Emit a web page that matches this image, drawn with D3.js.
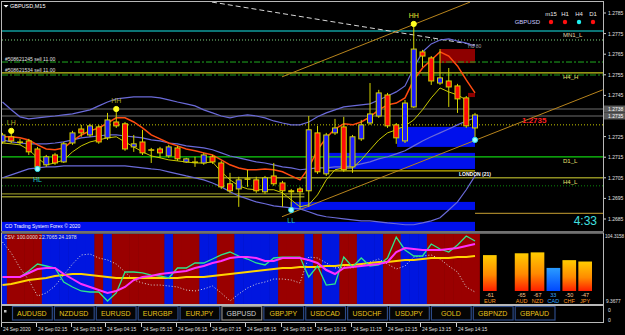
<!DOCTYPE html>
<html>
<head>
<meta charset="utf-8">
<title>GBPUSD,M15</title>
<script src="https://cdn.jsdelivr.net/npm/d3@7"></script>
<style>
  html, body { margin: 0; padding: 0; background: #000; overflow: hidden; }
  svg { display: block; font-family: "Liberation Sans", Arial, sans-serif; }
</style>
</head>
<body>
<div id="chart"></div>
<script>
// GBPUSD M15, 24 Sep 2020 - bars from 01:15 (index 0) to 14:45 (index 54)
var opens  = [1.27224,1.27249,1.27224,1.27229,1.27190,1.27113,1.27161,1.27127,1.27219,1.27287,1.27258,1.27297,1.27244,1.27321,1.27312,1.27200,1.27224,1.27186,1.27190,1.27156,1.27195,1.27127,1.27127,1.27122,1.27152,1.27122,1.27021,1.26996,1.27045,1.27040,1.26982,1.27059,1.27025,1.26987,1.26996,1.26987,1.27268,1.27069,1.27268,1.27297,1.27103,1.27239,1.27316,1.27350,1.27452,1.27307,1.27229,1.27394,1.27661,1.27632,1.27510,1.27520,1.27496,1.27438,1.27292];
var highs  = [1.27268,1.27268,1.27239,1.27239,1.27200,1.27161,1.27171,1.27224,1.27278,1.27307,1.27312,1.27307,1.27365,1.27375,1.27321,1.27258,1.27283,1.27195,1.27200,1.27210,1.27205,1.27147,1.27152,1.27171,1.27161,1.27132,1.27074,1.27055,1.27089,1.27055,1.27059,1.27122,1.27035,1.26996,1.27006,1.27350,1.27302,1.27268,1.27336,1.27346,1.27258,1.27331,1.27510,1.27477,1.27462,1.27316,1.27428,1.27797,1.27671,1.27641,1.27675,1.27583,1.27506,1.27447,1.27365];
var lows   = [1.27215,1.27219,1.27210,1.27161,1.27098,1.27103,1.27113,1.27122,1.27210,1.27249,1.27249,1.27215,1.27234,1.27292,1.27181,1.27176,1.27161,1.27122,1.27147,1.27147,1.27132,1.27122,1.27103,1.27113,1.27118,1.26996,1.26977,1.26909,1.27006,1.26977,1.26972,1.27011,1.26909,1.26904,1.26899,1.26909,1.27069,1.27059,1.27258,1.27079,1.27074,1.27229,1.27307,1.27341,1.27292,1.27215,1.27219,1.27389,1.27588,1.27501,1.27501,1.27394,1.27365,1.27292,1.27234];
var closes = [1.27258,1.27229,1.27223,1.27176,1.27103,1.27152,1.27122,1.27215,1.27268,1.27268,1.27302,1.27224,1.27331,1.27302,1.27190,1.27215,1.27171,1.27185,1.27171,1.27200,1.27142,1.27142,1.27126,1.27161,1.27127,1.27006,1.26987,1.27040,1.27044,1.26987,1.27050,1.27021,1.26987,1.26982,1.26982,1.27283,1.27079,1.27258,1.27292,1.27089,1.27249,1.27307,1.27360,1.27462,1.27302,1.27244,1.27413,1.27675,1.27641,1.27520,1.27535,1.27491,1.27433,1.27302,1.27355];

// moving averages and bands
var maFast = [1.27249,1.27249,1.27244,1.27234,1.27210,1.27190,1.27186,1.27195,1.27229,1.27258,1.27278,1.27292,1.27316,1.27341,1.27341,1.27321,1.27292,1.27258,1.27239,1.27219,1.27205,1.27190,1.27181,1.27171,1.27161,1.27137,1.27113,1.27098,1.27089,1.27089,1.27093,1.27089,1.27079,1.27059,1.27040,1.27098,1.27186,1.27244,1.27287,1.27312,1.27307,1.27321,1.27346,1.27380,1.27404,1.27413,1.27438,1.27525,1.27583,1.27622,1.27661,1.27641,1.27593,1.27525,1.27462];
var maSlow = [1.27219,1.27215,1.27210,1.27186,1.27147,1.27113,1.27122,1.27137,1.27176,1.27205,1.27224,1.27234,1.27244,1.27249,1.27224,1.27200,1.27176,1.27156,1.27147,1.27137,1.27132,1.27127,1.27122,1.27122,1.27127,1.27079,1.27040,1.27011,1.26996,1.26992,1.26992,1.26992,1.26977,1.26943,1.26909,1.26919,1.26967,1.27040,1.27089,1.27098,1.27098,1.27137,1.27186,1.27234,1.27268,1.27283,1.27302,1.27331,1.27380,1.27438,1.27486,1.27467,1.27452,1.27428,null];
var bandUpper = [1.27418,1.27380,1.27346,1.27336,1.27341,1.27346,1.27350,1.27355,1.27360,1.27370,1.27380,1.27399,1.27418,1.27433,1.27438,1.27443,1.27443,1.27443,1.27438,1.27428,1.27418,1.27409,1.27399,1.27380,1.27365,1.27350,1.27341,1.27350,1.27355,1.27350,1.27341,1.27326,1.27316,1.27307,1.27307,1.27321,1.27346,1.27365,1.27380,1.27394,1.27399,1.27404,1.27409,1.27428,1.27447,1.27467,1.27496,1.27583,1.27661,1.27700,1.27719,1.27724,1.27714,1.27704,1.27690];
var bandMid = [1.27234,1.27224,1.27219,1.27215,1.27215,1.27215,1.27219,1.27224,1.27234,1.27244,1.27249,1.27253,1.27258,1.27258,1.27253,1.27249,1.27244,1.27234,1.27229,1.27219,1.27215,1.27205,1.27200,1.27195,1.27186,1.27171,1.27156,1.27147,1.27137,1.27127,1.27122,1.27113,1.27103,1.27098,1.27089,1.27093,1.27098,1.27098,1.27103,1.27103,1.27108,1.27118,1.27127,1.27142,1.27152,1.27166,1.27181,1.27205,1.27229,1.27249,1.27268,1.27287,1.27307,1.27326,1.27341];
var bandLower = [1.27050,1.27064,1.27079,1.27093,1.27098,1.27103,1.27103,1.27108,1.27108,1.27108,1.27108,1.27108,1.27108,1.27108,1.27108,1.27103,1.27098,1.27093,1.27089,1.27079,1.27069,1.27059,1.27050,1.27040,1.27025,1.27006,1.26982,1.26962,1.26948,1.26933,1.26924,1.26914,1.26909,1.26904,1.26899,1.26885,1.26870,1.26861,1.26856,1.26851,1.26846,1.26841,1.26841,1.26836,1.26831,1.26827,1.26822,1.26822,1.26831,1.26841,1.26856,1.26894,1.26933,1.26992,1.27059];

// horizontal levels
var levelNames  = ["MN1_L","mn1dots","sell1","H4_H","sell2","ask","bid","LH","D1_L","H4_L","d1dots"];
var levelPrices = [1.27763,1.27719,1.27612,1.27559,1.27549,1.27384,1.27350,1.27307,1.27152,1.27050,1.27011];

// short segments: [from bar, to bar, price]
var segKinds  = ["olive","olive","london","tail"];
var segFrom   = [-1,-1,36.7,54];
var segTo     = [34.5,34.5,54,70];
var segPrices = [1.26972,1.26958,1.27084,1.26877];

// zones
var zoneKinds = ["blue","blue","blue","blue","red","red"];
var zoneFrom  = [45.1,36.7,32.9,-1,50,53.2];
var zoneTo    = [54,54,54,54,54,54];
var zoneHigh  = [1.27297,1.27171,1.26933,1.26836,1.27675,1.27462];
var zoneLow   = [1.27200,1.27093,1.26894,1.26790,1.27607,1.27442];

// trend lines
var trendKinds = ["white","tan","tan"];
var trendI0 = [23.94,31.94,31.94];
var trendP0 = [1.27903,1.27540,1.26861];
var trendI1 = [54,53.43,68.6];
var trendP1 = [1.27695,1.27903,1.27477];

// swing points
var swingBars   = [1,13,47,4,33,54];
var swingPrices = [1.27278,1.27384,1.27797,1.27093,1.26894,1.27234];
var swingTypes  = ["hi","hi","hi","lo","lo","lo"];
var swingLabels = ["LH","HH","HH","HL","LL",""];

var priceTicks = [1.2685,1.2695,1.2705,1.2715,1.2725,1.2735,1.2745,1.2755,1.2765,1.2775,1.2785];

var timeLabelBars = [0,4,8,12,16,20,24,28,32,36,40,44,48,52];
var timeLabels = ["24 Sep 2020","24 Sep 02:15","24 Sep 03:15","24 Sep 04:15","24 Sep 05:15","24 Sep 06:15","24 Sep 07:15","24 Sep 08:15","24 Sep 09:15","24 Sep 10:15","24 Sep 11:15","24 Sep 12:15","24 Sep 13:15","24 Sep 14:15"];

// lower window: signal per bar and the four lines
var signal = ["B","R","R","R","R","B","B","B","B","B","B","R","B","R","R","R","R","R","R","B","R","R","R","B","B","R","R","B","B","B","B","B","R","R","R","B","R","B","B","R","R","B","B","B","R","R","B","B","B","R","R","R","R","R","R"];
var csGreen   = [44.4,44.4,44.4,53.2,63.4,60.5,57.6,37.1,29.8,24.0,22.5,22.5,9.4,21.1,51.7,51.7,50.3,47.3,45.9,43.0,57.6,57.6,64.9,64.9,70.7,76.6,80.9,75.1,70.7,64.9,62.0,72.2,73.6,73.6,73.6,44.4,60.5,32.7,34.2,73.6,59.0,72.2,60.5,62.0,72.2,102.8,83.9,75.1,75.1,92.6,85.3,80.9,91.2,104.3,97.0];
var csMagenta = [44.4,44.4,44.4,50.3,56.1,57.6,57.6,48.8,41.5,34.2,29.8,25.4,21.1,24.0,29.8,40.0,44.4,45.9,48.8,50.3,51.7,53.2,57.6,60.5,64.9,67.8,72.2,73.6,73.6,72.2,67.8,67.8,72.2,72.2,72.2,69.3,64.9,54.6,48.8,57.6,59.0,60.5,62.0,63.4,66.3,80.9,86.8,85.3,83.9,83.9,83.9,85.3,86.8,89.7,92.6];
var csYellow  = [32.7,34.2,37.1,40.0,41.5,43.0,45.9,47.3,48.8,48.8,47.3,45.9,44.4,43.0,43.0,43.0,43.0,43.0,43.0,43.0,43.0,44.4,44.4,44.4,45.9,47.3,48.8,50.3,51.7,53.2,54.6,56.1,57.6,57.6,59.0,59.0,59.0,60.5,60.5,62.0,62.0,63.4,64.9,66.3,66.3,67.8,69.3,69.3,70.7,72.2,72.2,72.2,73.6,73.6,75.1];
var csWhite   = [95.5,79.5,57.6,40.0,16.7,21.1,31.3,47.3,63.4,76.6,78.0,72.2,69.3,63.4,51.7,40.0,35.7,32.7,32.7,31.3,29.8,25.4,24.0,26.9,31.3,21.1,9.4,19.6,28.4,34.2,37.1,41.5,41.5,40.0,35.7,73.6,72.2,64.9,57.6,59.0,57.6,62.0,66.3,70.7,63.4,56.1,60.5,73.6,75.1,76.6,70.7,60.5,51.7,29.8,22.5];
var csMin = 9.3677, csMax = 104.3158;

// currency strength bars
var currencies = ["EUR","GBP","AUD","NZD","CAD","CHF","JPY"];
var strength   = [-61,null,-65,-67,33,-50,-47];

// pair buttons
var pairs = ["AUDUSD","NZDUSD","EURUSD","EURGBP","EURJPY","GBPUSD","GBPJPY","USDCAD","USDCHF","USDJPY","GOLD","GBPNZD","GBPAUD"];
var activePair = "GBPUSD";

// timeframe trend dots
var tfNames = ["m15","H1","H4","D1"];
var tfState = ["down","down","up","down"];

var W = 625, H = 335;
var svg = d3.select("#chart").append("svg").attr("width", W).attr("height", H);
svg.append("rect").attr("width", W).attr("height", H).attr("fill", "#000");

var x = d3.scaleLinear().domain([0, 54]).range([2.5, 475]);
var y = d3.scaleLinear().domain([1.2685, 1.2785]).range([219, 13]);
var barW = x(1) - x(0);

var defs = svg.append("defs");
defs.append("clipPath").attr("id", "clipMain").append("rect")
  .attr("x", 2).attr("y", 2).attr("width", 601).attr("height", 229);
defs.append("clipPath").attr("id", "clipSub").append("rect")
  .attr("x", 2).attr("y", 234).attr("width", 601).attr("height", 70);
var gNeg = defs.append("linearGradient").attr("id", "gradNeg").attr("x1", 0).attr("y1", 0).attr("x2", 0).attr("y2", 1);
gNeg.append("stop").attr("offset", "0%").attr("stop-color", "#ffcc00");
gNeg.append("stop").attr("offset", "55%").attr("stop-color", "#ff8a00");
gNeg.append("stop").attr("offset", "100%").attr("stop-color", "#ff1e00");
var gPos = defs.append("linearGradient").attr("id", "gradPos").attr("x1", 0).attr("y1", 0).attr("x2", 0).attr("y2", 1);
gPos.append("stop").attr("offset", "0%").attr("stop-color", "#2a9cff");
gPos.append("stop").attr("offset", "100%").attr("stop-color", "#0048ff");

var main = svg.append("g").attr("clip-path", "url(#clipMain)");

// zones
var zones = zoneKinds.map(function(k, i) {
  return { kind: k, from: zoneFrom[i], to: zoneTo[i], hi: zoneHigh[i], lo: zoneLow[i] };
});
main.selectAll("rect.zone").data(zones).enter().append("rect")
  .attr("class", "zone")
  .attr("x", function(d) { return x(d.from); })
  .attr("width", function(d) { return x(d.to) - x(d.from); })
  .attr("y", function(d) { return y(d.hi); })
  .attr("height", function(d) { return y(d.lo) - y(d.hi); })
  .attr("fill", function(d) { return d.kind == "blue" ? "#0010ec" : "#8e0000"; });

// level lines
var levelStyle = {
  "MN1_L":   { color: "#0b7474", width: 2,   dash: null },
  "mn1dots": { color: "#7fd47f", width: 1,   dash: "1,2" },
  "sell1":   { color: "#1faa1f", width: 1,   dash: "6,2,2,2" },
  "H4_H":    { color: "#c4c41e", width: 1.2, dash: null },
  "sell2":   { color: "#1a9a1a", width: 1,   dash: "6,2,2,2" },
  "ask":     { color: "#4a4a4a", width: 1.5, dash: null },
  "bid":     { color: "#4a4a4a", width: 1.5, dash: null },
  "LH":      { color: "#c8c800", width: 1,   dash: "1,2" },
  "D1_L":    { color: "#10d010", width: 1.2, dash: null },
  "H4_L":    { color: "#8f8f22", width: 1.5, dash: null },
  "d1dots":  { color: "#0a8a0a", width: 1,   dash: "1,2" }
};
levelNames.forEach(function(n, i) {
  var s = levelStyle[n];
  main.append("line")
    .attr("x1", 2).attr("x2", 603)
    .attr("y1", y(levelPrices[i])).attr("y2", y(levelPrices[i]))
    .attr("stroke", s.color).attr("stroke-width", s.width)
    .attr("stroke-dasharray", s.dash);
});
// level labels
["MN1_L","H4_H","D1_L","H4_L"].forEach(function(n) {
  var p = levelPrices[levelNames.indexOf(n)];
  main.append("text").attr("x", 563).attr("y", y(p) + 6)
    .attr("fill", n == "MN1_L" ? "#e0d8b0" : "#e8e070")
    .style("font-size", "6px").text(n);
});

// segments
var segColor = { olive: "#8a8a24", london: "#c8b400", tail: "#a08028" };
segKinds.forEach(function(k, i) {
  main.append("line")
    .attr("x1", x(segFrom[i])).attr("x2", x(segTo[i]))
    .attr("y1", y(segPrices[i])).attr("y2", y(segPrices[i]))
    .attr("stroke", segColor[k]).attr("stroke-width", 1.3);
});

// trend lines
trendKinds.forEach(function(k, i) {
  main.append("line")
    .attr("x1", x(trendI0[i])).attr("y1", y(trendP0[i]))
    .attr("x2", x(trendI1[i])).attr("y2", y(trendP1[i]))
    .attr("stroke", k == "white" ? "#d8d8d8" : "#b8841c")
    .attr("stroke-width", 1)
    .attr("stroke-dasharray", k == "white" ? "5,3" : null);
});

// bands and averages
var line = d3.line()
  .defined(function(d) { return d != null; })
  .x(function(d, i) { return x(i); })
  .y(function(d) { return y(d); });
[bandUpper, bandMid, bandLower].forEach(function(s) {
  main.append("path").attr("d", line(s)).attr("fill", "none")
    .attr("stroke", "#6a6ad8").attr("stroke-width", 1.2);
});
main.append("path").attr("d", line(maSlow)).attr("fill", "none")
  .attr("stroke", "#c8c800").attr("stroke-width", 1);
main.append("path").attr("d", line(maFast)).attr("fill", "none")
  .attr("stroke", "#ff4a10").attr("stroke-width", 1.5);

// candles
var bars = opens.map(function(o, i) {
  return { i: i, o: o, h: highs[i], l: lows[i], c: closes[i] };
});
var cg = main.selectAll("g.candle").data(bars).enter().append("g").attr("class", "candle");
cg.append("line")
  .attr("x1", function(d) { return x(d.i); }).attr("x2", function(d) { return x(d.i); })
  .attr("y1", function(d) { return y(d.h); }).attr("y2", function(d) { return y(d.l); })
  .attr("stroke", "#d4d400").attr("stroke-width", 1);
cg.append("rect")
  .attr("x", function(d) { return x(d.i) - 2.5; })
  .attr("width", 5)
  .attr("y", function(d) { return y(Math.max(d.o, d.c)); })
  .attr("height", function(d) { return Math.max(0.5, Math.abs(y(d.o) - y(d.c))); })
  .attr("fill", function(d) { return d.c >= d.o ? "#1c1cff" : "#ff0a0a"; })
  .attr("stroke", "#d4d400").attr("stroke-width", 1);

// swing points
swingBars.forEach(function(b, k) {
  var hi = swingTypes[k] == "hi";
  var col = hi ? "#ffff20" : "#30e0f0";
  var cx = x(b), cy = y(swingPrices[k]);
  main.append("circle").attr("cx", cx).attr("cy", cy).attr("r", 2.6)
    .attr("fill", hi ? col : "#a0ffff").attr("stroke", col).attr("stroke-width", 1);
  if (swingLabels[k]) {
    main.append("text").attr("x", cx).attr("y", hi ? cy - 6 : cy + 13)
      .attr("text-anchor", "middle")
      .attr("fill", hi ? (b == 47 ? "#e8e830" : "#a8a820") : "#20c8c8")
      .style("font-size", "7px").text(swingLabels[k]);
  }
});

// texts in the main window
main.append("text").attr("x", 5).attr("y", 61).attr("fill", "#e0e0e0")
  .style("font-size", "5px").text("#508621245 sell 11.00");
main.append("text").attr("x", 5).attr("y", 72).attr("fill", "#e0e0e0")
  .style("font-size", "5px").text("#508621534 sell 11.00");
main.append("text").attr("x", 5).attr("y", 228).attr("fill", "#ffffff")
  .style("font-size", "5px").text("CO Trading System Forex \u00a9 2020");
main.append("text").attr("x", x(54) - 16).attr("y", y(1.27084) + 5).attr("fill", "#ffffff")
  .style("font-size", "5px").style("font-weight", "bold").text("LONDON (21)");
main.append("text").attr("x", x(53.2)).attr("y", y(1.27675) - 1).attr("fill", "#a0a0a0")
  .style("font-size", "5px").text("Hd 80");
main.append("text").attr("x", 522).attr("y", y(1.2735) + 7).attr("fill", "#ff2020")
  .style("font-size", "8px").style("font-weight", "bold").text("1.2735");
main.append("text").attr("x", 597).attr("y", 225).attr("text-anchor", "end").attr("fill", "#40e0e0")
  .style("font-size", "12px").text("4:33");

// title
svg.append("path").attr("d", "M3.5,5 L8.5,5 L6,7.5 Z").attr("fill", "#ffffff");
svg.append("text").attr("x", 10).attr("y", 8).attr("fill", "#ffffff")
  .style("font-size", "5.5px").text("GBPUSD,M15");

// timeframe panel
var tfX = d3.scalePoint().domain(tfNames).range([551, 593]);
tfNames.forEach(function(n, i) {
  svg.append("text").attr("x", tfX(n)).attr("y", 16).attr("text-anchor", "middle")
    .attr("fill", "#e8e8e8").style("font-size", "6px").text(n);
  svg.append("circle").attr("cx", tfX(n)).attr("cy", 22).attr("r", 2.2)
    .attr("fill", tfState[i] == "up" ? "#20f0f0" : "#ff1010");
});
svg.append("text").attr("x", 540).attr("y", 24).attr("text-anchor", "end")
  .attr("fill", "#c8c8ff").style("font-size", "6px").text("GBPUSD");

// price axis
priceTicks.forEach(function(p) {
  svg.append("line").attr("x1", 603).attr("x2", 606).attr("y1", y(p)).attr("y2", y(p)).attr("stroke", "#d0d0d0");
  svg.append("text").attr("x", 608).attr("y", y(p) + 2).attr("fill", "#e0e0e0")
    .style("font-size", "5px").text(d3.format(".4f")(p));
});
[["ask", "#5a5a5a"], ["bid", "#5a5a5a"]].forEach(function(a) {
  var p = levelPrices[levelNames.indexOf(a[0])];
  svg.append("rect").attr("x", 604).attr("y", y(p) - 3.5).attr("width", 21).attr("height", 7).attr("fill", a[1]);
  svg.append("text").attr("x", 608).attr("y", y(p) + 2).attr("fill", "#ffffff")
    .style("font-size", "5px").text(d3.format(".4f")(p));
});

// ---- lower window
var ys = d3.scaleLinear().domain([csMin, csMax]).range([301, 236]);
var sub = svg.append("g").attr("clip-path", "url(#clipSub)");
sub.selectAll("rect.sig").data(signal).enter().append("rect")
  .attr("x", function(d, i) { return x(i) - barW / 2; })
  .attr("width", barW + 0.5)
  .attr("y", 234).attr("height", 70)
  .attr("fill", function(d) { return d == "B" ? "#0016e0" : "#9a0000"; });
var sline = d3.line().x(function(d, i) { return x(i); }).y(function(d) { return ys(d); });
sub.append("path").attr("d", sline(csWhite)).attr("fill", "none")
  .attr("stroke", "#d8d8d8").attr("stroke-width", 1).attr("stroke-dasharray", "1,2");
sub.append("path").attr("d", sline(csYellow)).attr("fill", "none")
  .attr("stroke", "#ffd400").attr("stroke-width", 2);
sub.append("path").attr("d", sline(csGreen)).attr("fill", "none")
  .attr("stroke", "#2ee88a").attr("stroke-width", 1.3);
sub.append("path").attr("d", sline(csMagenta)).attr("fill", "none")
  .attr("stroke", "#ff30ff").attr("stroke-width", 2);
svg.append("text").attr("x", 4).attr("y", 239).attr("fill", "#e0e0e0")
  .style("font-size", "5px").text("CSV: 100.0000 22.7065 24.1978");
svg.append("text").attr("x", 605).attr("y", 238).attr("fill", "#e0e0e0").style("font-size", "4.6px").text("104.3158");
svg.append("text").attr("x", 606).attr("y", 303).attr("fill", "#e0e0e0").style("font-size", "4.8px").text("9.3677");

// currency strength bars
var bx = d3.scaleBand().domain(currencies).range([483, 592]).paddingInner(0.14);
var bh = d3.scaleLinear().domain([0, 70]).range([8, 40]);
var cs = currencies.map(function(c, i) { return { c: c, v: strength[i] }; }).filter(function(d) { return d.v != null; });
svg.selectAll("rect.cs").data(cs).enter().append("rect")
  .attr("x", function(d) { return bx(d.c); })
  .attr("width", bx.bandwidth())
  .attr("y", function(d) { return 291 - bh(Math.abs(d.v)); })
  .attr("height", function(d) { return bh(Math.abs(d.v)); })
  .attr("fill", function(d) { return d.v < 0 ? "url(#gradNeg)" : "url(#gradPos)"; });
svg.selectAll("text.csv").data(cs).enter().append("text")
  .attr("x", function(d) { return bx(d.c) + bx.bandwidth() / 2; }).attr("y", 297)
  .attr("text-anchor", "middle")
  .attr("fill", function(d) { return d.v < 0 ? "#ffc890" : "#30a8ff"; })
  .style("font-size", "5.5px").text(function(d) { return d.v; });
svg.selectAll("text.csn").data(cs).enter().append("text")
  .attr("x", function(d) { return bx(d.c) + bx.bandwidth() / 2; }).attr("y", 303)
  .attr("text-anchor", "middle")
  .attr("fill", function(d) { return d.v < 0 ? "#ff9a20" : "#30a8ff"; })
  .style("font-size", "5.5px").text(function(d) { return d.c; });

// buttons
var px = d3.scaleBand().domain(pairs).range([12, 554.5]).paddingInner(0.05);
var btn = svg.selectAll("g.btn").data(pairs).enter().append("g");
btn.append("rect")
  .attr("x", function(d) { return px(d) + 0.5; }).attr("y", 306.5)
  .attr("width", px.bandwidth()).attr("height", 13.5)
  .attr("fill", "#050505")
  .attr("stroke", function(d) { return d == activePair ? "#8a8a8a" : "#2c4a86"; })
  .attr("stroke-width", 1.2);
btn.append("text")
  .attr("x", function(d) { return px(d) + px.bandwidth() / 2; }).attr("y", 316)
  .attr("text-anchor", "middle")
  .attr("fill", function(d) { return d == activePair ? "#d0d0d0" : "#e6c21a"; })
  .style("font-size", "7px").text(function(d) { return d; });
svg.append("rect").attr("x", 4).attr("y", 310).attr("width", 2.5).attr("height", 2.5).attr("fill", "#c0c0c0");
svg.append("text").attr("x", 608).attr("y", 312).attr("fill", "#e0e0e0").style("font-size", "5px").text("0");
svg.append("text").attr("x", 608).attr("y", 322).attr("fill", "#e0e0e0").style("font-size", "5px").text("0");

// frames
[[1.5, 1.5, 602, 230], [1.5, 233, 602, 71.5], [1.5, 305.5, 602, 17]].forEach(function(r) {
  svg.append("rect").attr("x", r[0]).attr("y", r[1]).attr("width", r[2]).attr("height", r[3])
    .attr("fill", "none").attr("stroke", "#b8b8b8").attr("stroke-width", 1);
});
svg.append("line").attr("x1", 1).attr("x2", 604).attr("y1", 232).attr("y2", 232).attr("stroke", "#707070").attr("stroke-width", 2);

// time axis
timeLabelBars.forEach(function(b, k) {
  var tx = Math.round(x(b)) - 1.5;
  svg.append("line").attr("x1", tx).attr("x2", tx).attr("y1", 323).attr("y2", 327).attr("stroke", "#d0d0d0");
  svg.append("text").attr("x", tx + 1.5).attr("y", 331).attr("fill", "#e0e0e0")
    .style("font-size", "4.9px").text(timeLabels[k]);
});
</script>
</body>
</html>
